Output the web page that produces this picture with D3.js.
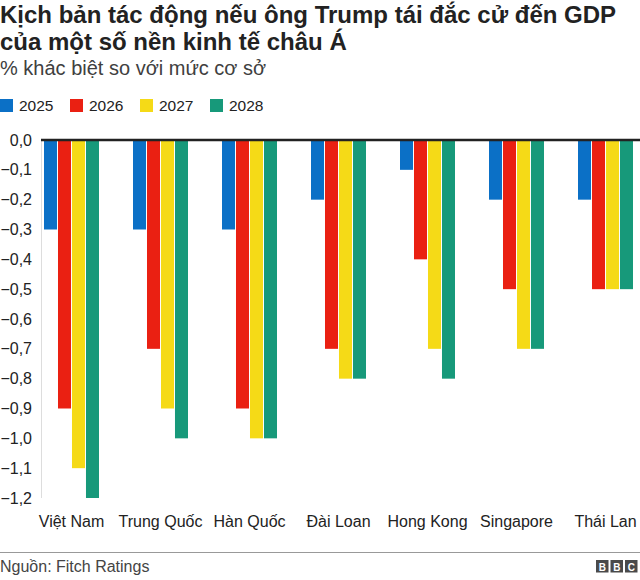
<!DOCTYPE html>
<html><head><meta charset="utf-8">
<script src="https://cdn.jsdelivr.net/npm/d3@7"></script>
<style>body{margin:0;background:#fff}svg{display:block;font-family:"Liberation Sans",Arial,Helvetica,sans-serif}</style>
</head><body><svg id="c" width="640" height="580"></svg>
<script>
const categories = ["Việt Nam","Trung Quốc","Hàn Quốc","Đài Loan","Hong Kong","Singapore","Thái Lan"];
const years = ["2025","2026","2027","2028"];
const v2025 = [-0.3,-0.3,-0.3,-0.2,-0.1,-0.2,-0.2];
const v2026 = [-0.9,-0.7,-0.9,-0.7,-0.4,-0.5,-0.5];
const v2027 = [-1.1,-0.9,-1.0,-0.8,-0.7,-0.7,-0.5];
const v2028 = [-1.2,-1.0,-1.0,-0.8,-0.8,-0.7,-0.5];
const yTicks = [0,-0.1,-0.2,-0.3,-0.4,-0.5,-0.6,-0.7,-0.8,-0.9,-1.0,-1.1,-1.2];
const colors = ["#0b70c6","#ea2012","#f5da17","#17997a"];
const series = [v2025,v2026,v2027,v2028];

const svg = d3.select("#c");
svg.append("text").attr("x",0).attr("y",23).attr("font-size",24).attr("font-weight","bold").attr("fill","#222")
  .text("Kịch bản tác động nếu ông Trump tái đắc cử đến GDP");
svg.append("text").attr("x",0).attr("y",50).attr("font-size",24).attr("font-weight","bold").attr("fill","#222")
  .text("của một số nền kinh tế châu Á");
svg.append("text").attr("x",0).attr("y",75).attr("font-size",20).attr("fill","#404040")
  .text("% khác biệt so với mức cơ sở");

// legend
const lg = svg.append("g");
years.forEach((y,i)=>{
  const gx = i*70;
  lg.append("rect").attr("x",gx).attr("y",99).attr("width",13).attr("height",13).attr("fill",colors[i]);
  lg.append("text").attr("x",gx+19).attr("y",111).attr("font-size",15.5).attr("fill","#222").text(y);
});

const yScale = d3.scaleLinear().domain([0,-1.2]).range([140,498]);
const x0 = d3.scaleBand().domain(categories).range([44,633]).paddingInner(34/89).paddingOuter(0);
const x1 = d3.scaleBand().domain(years).range([0,x0.bandwidth()]).paddingInner(0.07);

// faint vertical axis line
svg.append("line").attr("x1",41.5).attr("x2",41.5).attr("y1",140).attr("y2",498).attr("stroke","#ddd").attr("stroke-width",1);

// y axis labels
const yAxis = d3.axisLeft(yScale).tickValues(yTicks).tickSize(0).tickPadding(0)
  .tickFormat(d=>d3.format(".1f")(d).replace(".",",").replace("-","−"));
const ya = svg.append("g").attr("transform","translate(32,0)").call(yAxis);
ya.select(".domain").remove();
ya.selectAll("text").attr("font-size",16).attr("fill","#222").attr("font-family","Liberation Sans, Arial, sans-serif").attr("dy","0.32em");

// bars
categories.forEach((c,ci)=>{
  years.forEach((y,yi)=>{
    const v = series[yi][ci];
    svg.append("rect")
      .attr("x",x0(c)+x1(y)).attr("width",x1.bandwidth())
      .attr("y",yScale(0)).attr("height",yScale(v)-yScale(0))
      .attr("fill",colors[yi]);
  });
});

// zero line
svg.append("line").attr("x1",41).attr("x2",640).attr("y1",yScale(0)).attr("y2",yScale(0)).attr("stroke","#222").attr("stroke-width",2.5);

// x axis labels
const xAxis = d3.axisBottom(x0).tickSize(0).tickPadding(0);
const xa = svg.append("g").attr("transform","translate(0,515.5)").call(xAxis);
xa.select(".domain").remove();
xa.selectAll("text").attr("font-size",16).attr("fill","#222").attr("font-family","Liberation Sans, Arial, sans-serif").attr("dy","0.71em");

// footer
svg.append("line").attr("x1",0).attr("x2",640).attr("y1",552.5).attr("y2",552.5).attr("stroke","#999").attr("stroke-width",1);
svg.append("text").attr("x",0).attr("y",572).attr("font-size",16).attr("fill","#444").text("Nguồn: Fitch Ratings");
["B","B","C"].forEach((l,i)=>{
  const bx = 596 + i*14.5;
  svg.append("rect").attr("x",bx).attr("y",560).attr("width",12.5).attr("height",12.5).attr("fill","#4a4a4a");
  svg.append("text").attr("x",bx+6.25).attr("y",570.5).attr("text-anchor","middle").attr("font-size",10).attr("font-weight","bold").attr("fill","#fff").text(l);
});
</script></body></html>
